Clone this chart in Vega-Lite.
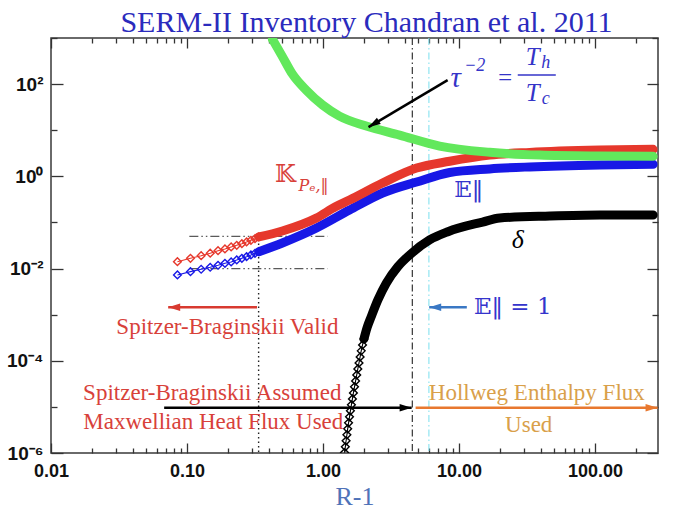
{
  "$schema": "https://vega.github.io/schema/vega-lite/v6.json",
  "width": 607,
  "height": 415,
  "autosize": {"type": "none"},
  "padding": {"left": 51, "top": 38, "right": 25, "bottom": 57},
  "background": "white",
  "title": {"text": "SERM-II Inventory Chandran et al. 2011", "font": "Liberation Serif", "fontSize": 30, "fontWeight": "normal", "color": "#2b2bbd", "anchor": "middle", "dx": 12, "offset": -9},
  "config": {
    "view": {"stroke": "#3a3a3a", "strokeWidth": 1.5},
    "axis": {"grid": false, "domain": false}
  },
  "resolve": {"axis": {"x": "independent", "y": "independent"}, "scale": {"color": "independent"}},
  "datasets": {
    "curves": [
      {"series": "delta", "x": 1.438, "y": 0.00000102},
      {"series": "delta", "x": 1.458, "y": 0.00000136},
      {"series": "delta", "x": 1.477, "y": 0.00000184},
      {"series": "delta", "x": 1.497, "y": 0.00000248},
      {"series": "delta", "x": 1.517, "y": 0.00000334},
      {"series": "delta", "x": 1.540, "y": 0.00000451},
      {"series": "delta", "x": 1.565, "y": 0.00000608},
      {"series": "delta", "x": 1.589, "y": 0.0000082},
      {"series": "delta", "x": 1.616, "y": 0.00001107},
      {"series": "delta", "x": 1.644, "y": 0.0000149},
      {"series": "delta", "x": 1.672, "y": 0.0000201},
      {"series": "delta", "x": 1.703, "y": 0.0000272},
      {"series": "delta", "x": 1.735, "y": 0.0000366},
      {"series": "delta", "x": 1.768, "y": 0.0000494},
      {"series": "delta", "x": 1.801, "y": 0.0000667},
      {"series": "delta", "x": 1.838, "y": 0.00009},
      {"series": "delta", "x": 1.873, "y": 0.000121},
      {"series": "delta", "x": 1.908, "y": 0.000164},
      {"series": "delta", "x": 1.951, "y": 0.000221},
      {"series": "delta", "x": 1.998, "y": 0.000298},
      {"series": "delta", "x": 2.053, "y": 0.000402},
      {"series": "delta", "x": 2.116, "y": 0.000542},
      {"series": "delta", "x": 2.26, "y": 0.000907},
      {"series": "delta", "x": 2.53, "y": 0.00209},
      {"series": "delta", "x": 2.915, "y": 0.0048},
      {"series": "delta", "x": 3.55, "y": 0.011},
      {"series": "delta", "x": 4.33, "y": 0.0197},
      {"series": "delta", "x": 6.07, "y": 0.0417},
      {"series": "delta", "x": 8.28, "y": 0.063},
      {"series": "delta", "x": 14.9, "y": 0.102},
      {"series": "delta", "x": 19.9, "y": 0.125},
      {"series": "delta", "x": 46.5, "y": 0.138},
      {"series": "delta", "x": 108, "y": 0.145},
      {"series": "delta", "x": 267, "y": 0.145},
      {"series": "E", "x": 0.085, "y": 0.00727},
      {"series": "E", "x": 0.106, "y": 0.00857},
      {"series": "E", "x": 0.127, "y": 0.00966},
      {"series": "E", "x": 0.148, "y": 0.01067},
      {"series": "E", "x": 0.169, "y": 0.01179},
      {"series": "E", "x": 0.190, "y": 0.01302},
      {"series": "E", "x": 0.211, "y": 0.0139},
      {"series": "E", "x": 0.232, "y": 0.01536},
      {"series": "E", "x": 0.253, "y": 0.01671},
      {"series": "E", "x": 0.274, "y": 0.0181},
      {"series": "E", "x": 0.295, "y": 0.01971},
      {"series": "E", "x": 0.316, "y": 0.02146},
      {"series": "E", "x": 0.337, "y": 0.02323},
      {"series": "E", "x": 0.502, "y": 0.0359},
      {"series": "E", "x": 0.894, "y": 0.0758},
      {"series": "E", "x": 1.565, "y": 0.186},
      {"series": "E", "x": 2.737, "y": 0.435},
      {"series": "E", "x": 4.87, "y": 0.752},
      {"series": "E", "x": 8.53, "y": 1.21},
      {"series": "E", "x": 16.8, "y": 1.45},
      {"series": "E", "x": 33.1, "y": 1.6},
      {"series": "E", "x": 108, "y": 1.76},
      {"series": "E", "x": 267, "y": 1.82},
      {"series": "K", "x": 0.085, "y": 0.0141},
      {"series": "K", "x": 0.106, "y": 0.0167},
      {"series": "K", "x": 0.127, "y": 0.019},
      {"series": "K", "x": 0.148, "y": 0.0215},
      {"series": "K", "x": 0.169, "y": 0.0244},
      {"series": "K", "x": 0.190, "y": 0.0266},
      {"series": "K", "x": 0.211, "y": 0.0294},
      {"series": "K", "x": 0.232, "y": 0.032},
      {"series": "K", "x": 0.253, "y": 0.0346},
      {"series": "K", "x": 0.274, "y": 0.0377},
      {"series": "K", "x": 0.295, "y": 0.041},
      {"series": "K", "x": 0.316, "y": 0.0445},
      {"series": "K", "x": 0.337, "y": 0.0484},
      {"series": "K", "x": 0.502, "y": 0.0653},
      {"series": "K", "x": 0.894, "y": 0.125},
      {"series": "K", "x": 1.234, "y": 0.219},
      {"series": "K", "x": 1.565, "y": 0.307},
      {"series": "K", "x": 2.737, "y": 0.716},
      {"series": "K", "x": 4.87, "y": 1.51},
      {"series": "K", "x": 8.53, "y": 2.12},
      {"series": "K", "x": 16.8, "y": 2.89},
      {"series": "K", "x": 33.1, "y": 3.3},
      {"series": "K", "x": 108, "y": 3.71},
      {"series": "K", "x": 267, "y": 3.85},
      {"series": "tau", "x": 0.424, "y": 944},
      {"series": "tau", "x": 0.502, "y": 398},
      {"series": "tau", "x": 0.595, "y": 165},
      {"series": "tau", "x": 0.751, "y": 74.1},
      {"series": "tau", "x": 0.995, "y": 35.0},
      {"series": "tau", "x": 1.32, "y": 20.2},
      {"series": "tau", "x": 2.077, "y": 12.3},
      {"series": "tau", "x": 3.65, "y": 7.85},
      {"series": "tau", "x": 7.19, "y": 4.54},
      {"series": "tau", "x": 16.8, "y": 3.32},
      {"series": "tau", "x": 39.2, "y": 2.89},
      {"series": "tau", "x": 108, "y": 2.75},
      {"series": "tau", "x": 267, "y": 2.71}
    ],
    "arrows": [
      {"name": "valid", "x": 0.327, "y": 0.00145, "x2": 0.0727, "y2": 0.00145},
      {"name": "assumed", "x": 0.0679, "y": 0.0000096, "x2": 4.48, "y2": 0.0000096},
      {"name": "hollweg", "x": 4.79, "y": 0.0000096, "x2": 288, "y2": 0.0000096},
      {"name": "unity", "x": 11.4, "y": 0.00145, "x2": 6.03, "y2": 0.00145},
      {"name": "tau", "x": 8.24, "y": 122, "x2": 2.16, "y2": 11.7}
    ]
  },
  "layer": [
    {
      "data": {"values": [{"x": 4.53}]},
      "mark": {"type": "rule", "color": "#222222", "strokeWidth": 1.1, "strokeDash": [7, 3, 1.5, 3]},
      "encoding": {
        "x": {"field": "x", "type": "quantitative", "scale": {"type": "log", "domain": [0.01, 290], "nice": false}, "axis": null}
      }
    },
    {
      "data": {"values": [{"x": 6.0}]},
      "mark": {"type": "rule", "color": "#86e2f0", "strokeWidth": 1.1, "strokeDash": [7, 3, 1.5, 3]},
      "encoding": {
        "x": {"field": "x", "type": "quantitative", "scale": {"type": "log", "domain": [0.01, 290], "nice": false}, "axis": null}
      }
    },
    {
      "data": {"values": [{"x": 0.336, "y": 0.055, "y2": 0.000001}]},
      "mark": {"type": "rule", "color": "#222222", "strokeWidth": 1.4, "strokeDash": [1.5, 3]},
      "encoding": {
        "x": {
          "field": "x", "type": "quantitative",
          "scale": {"type": "log", "domain": [0.01, 290], "nice": false},
          "axis": {
            "orient": "top", "title": null, "labels": false, "domain": false, "grid": false,
            "values": [0.01, 0.02, 0.03, 0.04, 0.05, 0.06, 0.07, 0.08, 0.09, 0.1, 0.2, 0.3, 0.4, 0.5, 0.6, 0.7, 0.8, 0.9, 1, 2, 3, 4, 5, 6, 7, 8, 9, 10, 20, 30, 40, 50, 60, 70, 80, 90, 100, 200],
            "tickColor": "#333333", "tickWidth": 1.3,
            "tickSize": {"condition": {"test": "indexof([0.01, 0.1, 1, 10, 100], datum.value) >= 0", "value": -10}, "value": -5}
          }
        },
        "y": {
          "field": "y", "type": "quantitative",
          "scale": {"type": "log", "domain": [0.000001, 1000], "nice": false},
          "axis": {
            "orient": "right", "title": null, "labels": false, "domain": false, "grid": false,
            "values": [0.000001, 0.00001, 0.0001, 0.001, 0.01, 0.1, 1, 10, 100, 1000],
            "tickColor": "#333333", "tickWidth": 1.3,
            "tickSize": {"condition": {"test": "indexof([0.000001, 0.0001, 0.01, 1, 100], datum.value) >= 0", "value": -11}, "value": -6}
          }
        },
        "y2": {"field": "y2"}
      }
    },
    {
      "data": {"values": [{"x": 0.104, "x2": 1.08, "y": 0.05}, {"x": 0.104, "x2": 1.08, "y": 0.01}]},
      "mark": {"type": "rule", "color": "#5a5a5a", "strokeWidth": 1.3, "strokeDash": [9, 3, 1.5, 3, 1.5, 3]},
      "encoding": {
        "x": {"field": "x", "type": "quantitative", "scale": {"type": "log", "domain": [0.01, 290], "nice": false}, "axis": null},
        "x2": {"field": "x2"},
        "y": {"field": "y", "type": "quantitative", "scale": {"type": "log", "domain": [0.000001, 1000], "nice": false}, "axis": null}
      }
    },
    {
      "data": {"name": "curves"},
      "transform": [{"filter": "datum.series == 'tau' || (datum.series == 'delta' ? datum.y >= 0.000298 : datum.x >= 0.337)"}],
      "mark": {"type": "line", "strokeWidth": 9, "interpolate": "monotone", "strokeCap": "round", "strokeJoin": "round", "clip": true},
      "encoding": {
        "x": {
          "field": "x", "type": "quantitative",
          "scale": {"type": "log", "domain": [0.01, 290], "nice": false},
          "axis": {
            "orient": "bottom", "domain": false, "grid": false,
            "values": [0.01, 0.02, 0.03, 0.04, 0.05, 0.06, 0.07, 0.08, 0.09, 0.1, 0.2, 0.3, 0.4, 0.5, 0.6, 0.7, 0.8, 0.9, 1, 2, 3, 4, 5, 6, 7, 8, 9, 10, 20, 30, 40, 50, 60, 70, 80, 90, 100, 200],
            "labelExpr": "indexof([0.01, 0.1, 1, 10, 100], datum.value) >= 0 ? format(datum.value, '.2f') : ''",
            "tickColor": "#333333", "tickWidth": 1.3,
            "tickSize": {"condition": {"test": "indexof([0.01, 0.1, 1, 10, 100], datum.value) >= 0", "value": -10}, "value": -5},
            "labelFont": "Liberation Sans", "labelFontWeight": "bold", "labelFontSize": 18, "labelColor": "#111111",
            "labelPadding": 19, "labelFlush": false, "labelOverlap": false,
            "title": "R-1", "titleFont": "Liberation Serif", "titleFontSize": 26, "titleFontWeight": "normal", "titleColor": "#4f72b8", "titlePadding": -2
          }
        },
        "y": {
          "field": "y", "type": "quantitative",
          "scale": {"type": "log", "domain": [0.000001, 1000], "nice": false},
          "axis": {
            "orient": "left", "domain": false, "grid": false, "title": null,
            "values": [0.000001, 0.00001, 0.0001, 0.001, 0.01, 0.1, 1, 10, 100, 1000],
            "labelExpr": "datum.value == 100 ? '10²' : datum.value == 1 ? '10⁰' : datum.value == 0.01 ? '10⁻²' : datum.value == 0.0001 ? '10⁻⁴' : datum.value == 0.000001 ? '10⁻⁶' : ''",
            "tickColor": "#333333", "tickWidth": 1.3,
            "tickSize": {"condition": {"test": "indexof([0.000001, 0.0001, 0.01, 1, 100], datum.value) >= 0", "value": -12}, "value": -6},
            "labelFont": "Liberation Sans", "labelFontWeight": "bold", "labelFontSize": 19, "labelColor": "#111111",
            "labelPadding": 20, "labelFlush": false, "labelOverlap": false
          }
        },
        "color": {"field": "series", "type": "nominal", "scale": {"domain": ["delta", "E", "K", "tau"], "range": ["#000000", "#1818e6", "#e6382c", "#62e85c"]}, "legend": null}
      }
    },
    {
      "data": {"name": "curves"},
      "transform": [{"filter": "datum.series != 'tau' && (datum.series == 'delta' ? datum.y <= 0.000298 : datum.x <= 0.337)"}],
      "mark": {"type": "line", "strokeWidth": 1.1, "clip": true},
      "encoding": {
        "x": {"field": "x", "type": "quantitative", "scale": {"type": "log", "domain": [0.01, 290], "nice": false}, "axis": null},
        "y": {"field": "y", "type": "quantitative", "scale": {"type": "log", "domain": [0.000001, 1000], "nice": false}, "axis": null},
        "color": {"field": "series", "type": "nominal", "scale": {"domain": ["delta", "E", "K", "tau"], "range": ["#000000", "#1818e6", "#e6382c", "#62e85c"]}, "legend": null}
      }
    },
    {
      "data": {"name": "curves"},
      "transform": [{"filter": "datum.series != 'tau' && (datum.series == 'delta' ? datum.y <= 0.000298 : datum.x <= 0.337)"}],
      "mark": {"type": "point", "shape": "diamond", "filled": false, "size": 60, "strokeWidth": 1.4, "opacity": 1, "clip": true},
      "encoding": {
        "x": {"field": "x", "type": "quantitative", "scale": {"type": "log", "domain": [0.01, 290], "nice": false}, "axis": null},
        "y": {"field": "y", "type": "quantitative", "scale": {"type": "log", "domain": [0.000001, 1000], "nice": false}, "axis": null},
        "color": {"field": "series", "type": "nominal", "scale": {"domain": ["delta", "E", "K", "tau"], "range": ["#000000", "#1818e6", "#e6382c", "#62e85c"]}, "legend": null}
      }
    },
    {
      "data": {"name": "arrows"},
      "mark": {"type": "rule", "strokeWidth": 2.5},
      "encoding": {
        "x": {"field": "x", "type": "quantitative", "scale": {"type": "log", "domain": [0.01, 290], "nice": false}, "axis": null},
        "y": {"field": "y", "type": "quantitative", "scale": {"type": "log", "domain": [0.000001, 1000], "nice": false}, "axis": null},
        "x2": {"field": "x2"},
        "y2": {"field": "y2"},
        "color": {"field": "name", "type": "nominal", "scale": {"domain": ["valid", "assumed", "hollweg", "unity", "tau"], "range": ["#d83a30", "#000000", "#e8782f", "#3a78c4", "#000000"]}, "legend": null}
      }
    },
    {
      "data": {"name": "arrows"},
      "transform": [{"filter": "datum.name == 'assumed' || datum.name == 'hollweg'"}],
      "mark": {"type": "point", "shape": "M0,0L-2,-0.62L-2,0.62Z", "filled": true, "size": 144, "opacity": 1, "angle": 0},
      "encoding": {
        "x": {"field": "x2", "type": "quantitative", "scale": {"type": "log", "domain": [0.01, 290], "nice": false}, "axis": null},
        "y": {"field": "y2", "type": "quantitative", "scale": {"type": "log", "domain": [0.000001, 1000], "nice": false}, "axis": null},
        "color": {"field": "name", "type": "nominal", "scale": {"domain": ["valid", "assumed", "hollweg", "unity", "tau"], "range": ["#d83a30", "#000000", "#e8782f", "#3a78c4", "#000000"]}, "legend": null}
      }
    },
    {
      "data": {"name": "arrows"},
      "transform": [{"filter": "datum.name == 'valid' || datum.name == 'unity'"}],
      "mark": {"type": "point", "shape": "M0,0L-2,-0.62L-2,0.62Z", "filled": true, "size": 144, "opacity": 1, "angle": 180},
      "encoding": {
        "x": {"field": "x2", "type": "quantitative", "scale": {"type": "log", "domain": [0.01, 290], "nice": false}, "axis": null},
        "y": {"field": "y2", "type": "quantitative", "scale": {"type": "log", "domain": [0.000001, 1000], "nice": false}, "axis": null},
        "color": {"field": "name", "type": "nominal", "scale": {"domain": ["valid", "assumed", "hollweg", "unity", "tau"], "range": ["#d83a30", "#000000", "#e8782f", "#3a78c4", "#000000"]}, "legend": null}
      }
    },
    {
      "data": {"name": "arrows"},
      "transform": [{"filter": "datum.name == 'tau'"}],
      "mark": {"type": "point", "shape": "M0,0L-2,-0.62L-2,0.62Z", "filled": true, "size": 144, "opacity": 1, "angle": 149},
      "encoding": {
        "x": {"field": "x2", "type": "quantitative", "scale": {"type": "log", "domain": [0.01, 290], "nice": false}, "axis": null},
        "y": {"field": "y2", "type": "quantitative", "scale": {"type": "log", "domain": [0.000001, 1000], "nice": false}, "axis": null},
        "color": {"field": "name", "type": "nominal", "scale": {"domain": ["valid", "assumed", "hollweg", "unity", "tau"], "range": ["#d83a30", "#000000", "#e8782f", "#3a78c4", "#000000"]}, "legend": null}
      }
    },
    {
      "data": {"values": [
        {"label": "Spitzer-Braginskii Valid", "x": 0.198, "y": 0.000543},
        {"label": "Spitzer-Braginskii Assumed", "x": 0.1533, "y": 0.0000201},
        {"label": "Maxwellian Heat Flux Used", "x": 0.156, "y": 0.00000482}
      ]},
      "mark": {"type": "text", "font": "Liberation Serif", "fontSize": 23, "color": "#d8413a", "align": "center", "baseline": "middle"},
      "encoding": {
        "x": {"field": "x", "type": "quantitative", "scale": {"type": "log", "domain": [0.01, 290], "nice": false}, "axis": null},
        "y": {"field": "y", "type": "quantitative", "scale": {"type": "log", "domain": [0.000001, 1000], "nice": false}, "axis": null},
        "text": {"field": "label"}
      }
    },
    {
      "data": {"values": [
        {"label": "Hollweg Enthalpy Flux", "x": 37.3, "y": 0.0000205},
        {"label": "Used", "x": 32.5, "y": 0.00000408}
      ]},
      "mark": {"type": "text", "font": "Liberation Serif", "fontSize": 23, "color": "#d9a04a", "align": "center", "baseline": "middle"},
      "encoding": {
        "x": {"field": "x", "type": "quantitative", "scale": {"type": "log", "domain": [0.01, 290], "nice": false}, "axis": null},
        "y": {"field": "y", "type": "quantitative", "scale": {"type": "log", "domain": [0.000001, 1000], "nice": false}, "axis": null},
        "text": {"field": "label"}
      }
    },
    {
      "data": {"values": [
        {"label": "𝔼‖ = 1", "x": 24.8, "y": 0.00147},
        {"label": "𝔼‖", "x": 11.8, "y": 0.505}
      ]},
      "mark": {"type": "text", "font": "DejaVu Serif", "fontSize": 23, "color": "#3434cc", "align": "center", "baseline": "middle"},
      "encoding": {
        "x": {"field": "x", "type": "quantitative", "scale": {"type": "log", "domain": [0.01, 290], "nice": false}, "axis": null},
        "y": {"field": "y", "type": "quantitative", "scale": {"type": "log", "domain": [0.000001, 1000], "nice": false}, "axis": null},
        "text": {"field": "label"}
      }
    },
    {
      "data": {"values": [{"label": "𝕂", "x": 0.529, "y": 1.07}]},
      "mark": {"type": "text", "font": "DejaVu Serif", "fontSize": 24, "color": "#d8413a", "align": "center", "baseline": "middle"},
      "encoding": {
        "x": {"field": "x", "type": "quantitative", "scale": {"type": "log", "domain": [0.01, 290], "nice": false}, "axis": null},
        "y": {"field": "y", "type": "quantitative", "scale": {"type": "log", "domain": [0.000001, 1000], "nice": false}, "axis": null},
        "text": {"field": "label"}
      }
    },
    {
      "data": {"values": [{"label": "Pₑ,‖", "x": 0.85, "y": 0.616}]},
      "mark": {"type": "text", "font": "DejaVu Serif", "fontSize": 16, "fontStyle": "italic", "color": "#d8413a", "align": "center", "baseline": "middle"},
      "encoding": {
        "x": {"field": "x", "type": "quantitative", "scale": {"type": "log", "domain": [0.01, 290], "nice": false}, "axis": null},
        "y": {"field": "y", "type": "quantitative", "scale": {"type": "log", "domain": [0.000001, 1000], "nice": false}, "axis": null},
        "text": {"field": "label"}
      }
    },
    {
      "data": {"values": [{"label": "δ", "x": 27.0, "y": 0.0417}]},
      "mark": {"type": "text", "font": "Liberation Serif", "fontSize": 26, "fontStyle": "italic", "color": "#000000", "align": "center", "baseline": "middle"},
      "encoding": {
        "x": {"field": "x", "type": "quantitative", "scale": {"type": "log", "domain": [0.01, 290], "nice": false}, "axis": null},
        "y": {"field": "y", "type": "quantitative", "scale": {"type": "log", "domain": [0.000001, 1000], "nice": false}, "axis": null},
        "text": {"field": "label"}
      }
    },
    {
      "data": {"values": [
        {"label": "τ", "x": 9.44, "y": 135}
      ]},
      "mark": {"type": "text", "font": "Liberation Serif", "fontSize": 29, "fontStyle": "italic", "color": "#3434c8", "align": "center", "baseline": "middle"},
      "encoding": {
        "x": {"field": "x", "type": "quantitative", "scale": {"type": "log", "domain": [0.01, 290], "nice": false}, "axis": null},
        "y": {"field": "y", "type": "quantitative", "scale": {"type": "log", "domain": [0.000001, 1000], "nice": false}, "axis": null},
        "text": {"field": "label"}
      }
    },
    {
      "data": {"values": [
        {"label": "=", "x": 21.7, "y": 135},
        {"label": "T", "x": 34.8, "y": 385},
        {"label": "T", "x": 34.8, "y": 63.5}
      ]},
      "mark": {"type": "text", "font": "Liberation Serif", "fontSize": 25, "fontStyle": "italic", "color": "#3434c8", "align": "center", "baseline": "middle"},
      "encoding": {
        "x": {"field": "x", "type": "quantitative", "scale": {"type": "log", "domain": [0.01, 290], "nice": false}, "axis": null},
        "y": {"field": "y", "type": "quantitative", "scale": {"type": "log", "domain": [0.000001, 1000], "nice": false}, "axis": null},
        "text": {"field": "label"}
      }
    },
    {
      "data": {"values": [
        {"label": "−2", "x": 13.03, "y": 245},
        {"label": "h", "x": 43.4, "y": 285},
        {"label": "c", "x": 43.4, "y": 47.1}
      ]},
      "mark": {"type": "text", "font": "Liberation Serif", "fontSize": 18, "fontStyle": "italic", "color": "#3434c8", "align": "center", "baseline": "middle"},
      "encoding": {
        "x": {"field": "x", "type": "quantitative", "scale": {"type": "log", "domain": [0.01, 290], "nice": false}, "axis": null},
        "y": {"field": "y", "type": "quantitative", "scale": {"type": "log", "domain": [0.000001, 1000], "nice": false}, "axis": null},
        "text": {"field": "label"}
      }
    },
    {
      "data": {"values": [{"x": 27.0, "x2": 51.4, "y": 157}]},
      "mark": {"type": "rule", "color": "#3434c8", "strokeWidth": 1.5},
      "encoding": {
        "x": {"field": "x", "type": "quantitative", "scale": {"type": "log", "domain": [0.01, 290], "nice": false}, "axis": null},
        "x2": {"field": "x2"},
        "y": {"field": "y", "type": "quantitative", "scale": {"type": "log", "domain": [0.000001, 1000], "nice": false}, "axis": null}
      }
    }
  ]
}
